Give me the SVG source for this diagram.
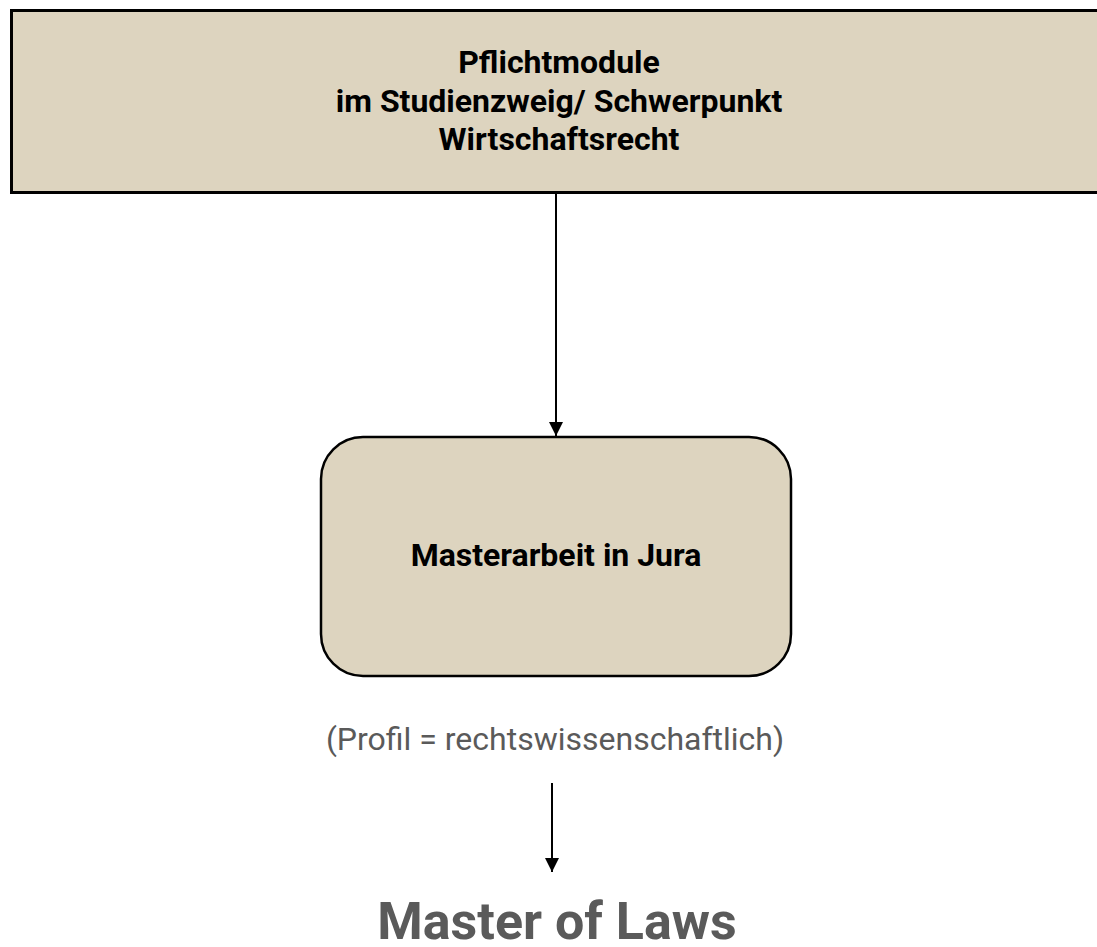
<svg xmlns="http://www.w3.org/2000/svg" width="1097" height="947" viewBox="0 0 1097 947">
<defs>
<style>
.box{fill:#ddd4bf;stroke:#000}
.t{font-family:Roboto,"Liberation Sans",sans-serif;text-anchor:middle}
.b{font-weight:bold;fill:#000}
.g{fill:#5a5a5a}
.c{stroke:#000;stroke-width:2;fill:none}
</style>
<marker id="ah" viewBox="0 0 14 14" refX="14" refY="7" markerWidth="14" markerHeight="14" markerUnits="userSpaceOnUse" orient="auto">
<path d="M0,0 L14,7 L0,14 Z" fill="#000"/>
</marker>
</defs>
<rect width="1097" height="947" fill="#fff"/>
<g id="pflicht">
<rect class="box" x="11.5" y="10.5" width="1100" height="182" stroke-width="3"/>
<text class="t b" font-size="32" x="559" y="73">Pflichtmodule</text>
<text class="t b" font-size="32" x="559" y="112">im Studienzweig/ Schwerpunkt</text>
<text class="t b" font-size="32" x="559" y="150">Wirtschaftsrecht</text>
</g>
<g id="masterarbeit">
<rect class="box" x="321" y="437" width="470" height="239" rx="42" ry="42" stroke-width="2.5"/>
<text class="t b" font-size="32" x="556" y="566">Masterarbeit in Jura</text>
</g>
<g id="profil">
<text class="t g" font-size="32" x="555" y="750">(Profil = rechtswissenschaftlich)</text>
</g>
<g id="master">
<text class="t g" font-size="52" font-weight="bold" x="557" y="939">Master of Laws</text>
</g>
<g id="connectors">
<line class="c" x1="556" y1="194" x2="556" y2="436" marker-end="url(#ah)"/>
<line class="c" x1="552" y1="783" x2="552" y2="872" marker-end="url(#ah)"/>
</g>
</svg>
